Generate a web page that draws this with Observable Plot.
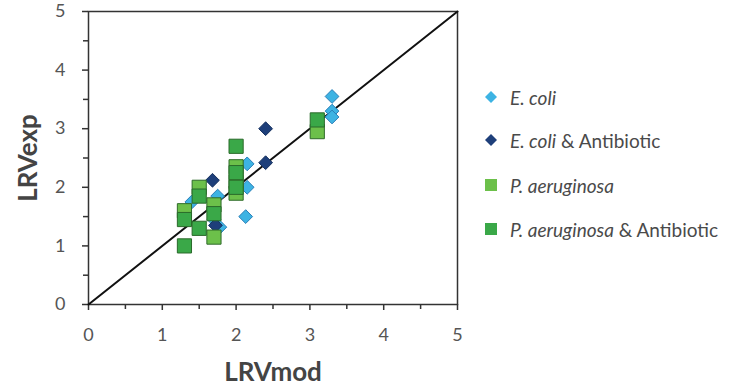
<!DOCTYPE html>
<html><head><meta charset="utf-8">
<script src="https://cdn.jsdelivr.net/npm/d3@7"></script>
<script src="https://cdn.jsdelivr.net/npm/@observablehq/plot@0.6"></script>
<style>
body{margin:0;background:#fff;font-family:Lato,"Open Sans",sans-serif;overflow:hidden}
#wrap{position:relative;width:730px;height:390px;overflow:hidden}
#chart{position:absolute;left:0;top:0}
#legend{position:absolute;left:484px;top:86px;font-size:19px;color:#4a4a4a;white-space:nowrap}
.item{position:absolute;left:0;height:22px;display:flex;align-items:center}
.item svg{margin-right:12px}
g[aria-label="x-axis label"] text, g[aria-label="y-axis label"] text{font-weight:bold;font-size:26px;fill:#444}
</style></head>
<body><div id="wrap"><div id="chart"></div><div id="legend"></div></div>
<script>
const seriesNames = ["E. coli", "E. coli & Antibiotic", "P. aeruginosa", "P. aeruginosa & Antibiotic"];
const ecoliX = [3.3, 3.3, 3.3, 2.15, 2.15, 2.13, 1.75, 1.78, 1.7, 1.4];
const ecoliY = [3.55, 3.3, 3.2, 2.4, 2.0, 1.5, 1.85, 1.32, 1.45, 1.75];
const ecoliAbX = [2.4, 2.4, 1.68, 1.72];
const ecoliAbY = [3.0, 2.42, 2.12, 1.35];
const paerX = [1.3, 1.5, 1.7, 2.0, 2.0, 1.7, 3.1, 2.0];
const paerY = [1.6, 2.0, 1.7, 2.35, 2.1, 1.15, 2.95, 1.9];
const paerAbX = [1.3, 1.3, 1.5, 1.5, 1.7, 2.0, 2.0, 2.0, 3.1];
const paerAbY = [1.45, 1.0, 1.85, 1.3, 1.55, 2.7, 2.25, 2.0, 3.15];
const majorTicks = [0, 1, 2, 3, 4, 5];
const minorTicks = [0.5, 1.5, 2.5, 3.5, 4.5];
const identityLine = [0, 5];

const colors = ["#3db3e3", "#1e3f7a", "#6cc04a", "#3aa848"];
const strokes = ["#2a7fb8", "#15305e", "#2f6b2a", "#2a6a2a"];

const pts = (xs, ys, s) => xs.map((x, i) => ({x, y: ys[i], s}));
const ecoli = pts(ecoliX, ecoliY, seriesNames[0]);
const ecoliAb = pts(ecoliAbX, ecoliAbY, seriesNames[1]);
const paer = pts(paerX, paerY, seriesNames[2]);
const paerAb = pts(paerAbX, paerAbY, seriesNames[3]);

const chart = Plot.plot({
  width: 470, height: 390,
  marginLeft: 88, marginRight: 13, marginTop: 11, marginBottom: 86,
  style: {fontFamily: "Lato, 'Open Sans', sans-serif", fontSize: "18px", color: "#555"},
  x: {domain: [0, 5]},
  y: {domain: [0, 5]},
  marks: [
    Plot.axisX({ticks: minorTicks, tickSize: 5, tickFormat: () => "", stroke: "#333", strokeWidth: 1.5, label: null}),
    Plot.axisX({ticks: majorTicks, tickSize: 6, tickPadding: 18, tickFormat: d3.format("d"), stroke: "#333", strokeWidth: 1.5, fill: "#555",
      label: "LRVmod", labelAnchor: "center", labelArrow: "none", labelOffset: 76}),
    Plot.axisY({ticks: minorTicks, tickSize: 5, tickFormat: () => "", stroke: "#333", strokeWidth: 1.5, label: null}),
    Plot.axisY({ticks: majorTicks, tickSize: 6, tickPadding: 17, tickFormat: d3.format("d"), stroke: "#333", strokeWidth: 1.5, fill: "#555",
      label: "LRVexp", labelAnchor: "center", labelArrow: "none", labelOffset: 70}),
    Plot.frame({stroke: "#333", strokeWidth: 1.5}),
    Plot.line(identityLine, {x: d => d, y: d => d, stroke: "#111", strokeWidth: 2}),
    Plot.dot(ecoli, {x: "x", y: "y", symbol: "diamond2", r: 6.2, fill: colors[0], stroke: strokes[0], strokeWidth: 1}),
    Plot.dot(ecoliAb, {x: "x", y: "y", symbol: "diamond2", r: 6.2, fill: colors[1], stroke: strokes[1], strokeWidth: 1}),
    Plot.dot(paer, {x: "x", y: "y", symbol: "square", r: 8, fill: colors[2], stroke: strokes[2], strokeWidth: 1}),
    Plot.dot(paerAb, {x: "x", y: "y", symbol: "square", r: 8, fill: colors[3], stroke: strokes[3], strokeWidth: 1})
  ]
});
document.getElementById("chart").appendChild(chart);

const legend = document.getElementById("legend");
const tops = [0, 43, 88, 132];
const labelsHtml = [
  "<i>E. coli</i>",
  "<i>E. coli</i> &amp; Antibiotic",
  "<i>P. aeruginosa</i>",
  "<i>P. aeruginosa</i> &amp; Antibiotic"
];
seriesNames.forEach((name, i) => {
  const div = document.createElement("div");
  div.className = "item";
  div.style.top = tops[i] + "px";
  const shape = i < 2
    ? `<svg width="14" height="14"><path d="M7,1 L13,7 L7,13 L1,7Z" fill="${colors[i]}"/></svg>`
    : `<svg width="14" height="14"><rect x="1" y="1" width="12" height="12" fill="${colors[i]}"/></svg>`;
  div.innerHTML = shape + "<span>" + labelsHtml[i] + "</span>";
  legend.appendChild(div);
});
</script></body></html>
